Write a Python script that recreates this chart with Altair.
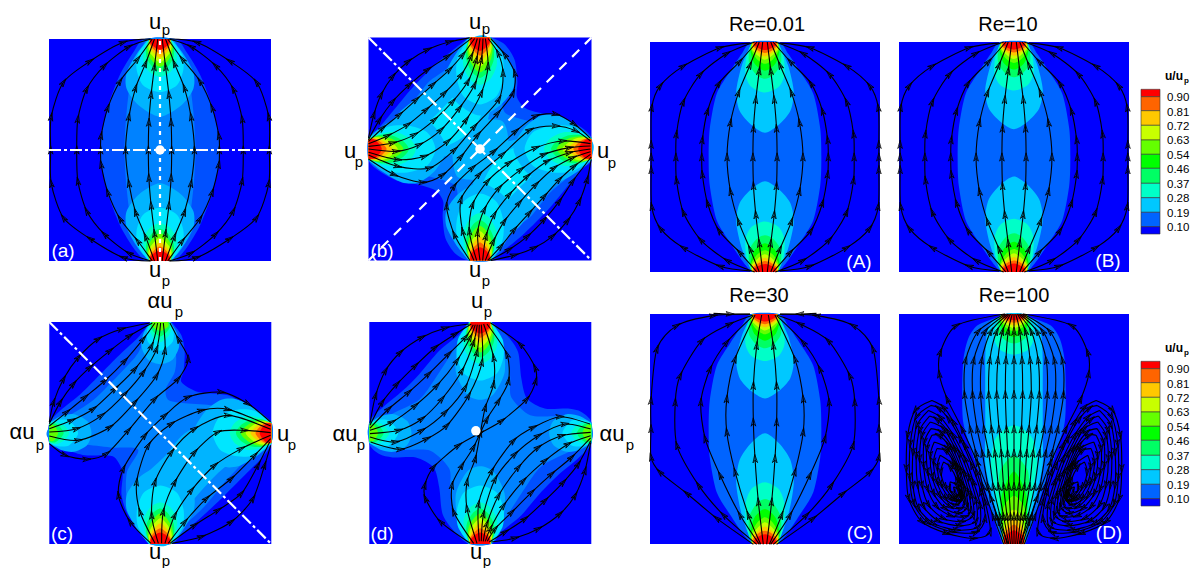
import math
import altair as alt
import pandas as pd

# ---- colours of the contour levels
BLUE = "#0000ff"
C1, C2, C3, C4, C5, C6, C7, C8, C9, C10, C11 = ("#0050ff", "#0082ff", "#00b4ff", "#00e6ff", "#00ffc0",
                                                 "#00ff60", "#60ff00", "#c8ff00", "#ffc800", "#ff6400", "#ff0000")
LEGEND_COLORS = ["#ff0000", "#ff6400", "#ffc800", "#c8ff00", "#64ff00", "#00ff00",
                 "#00ff64", "#00ffc8", "#00c8ff", "#0064ff", "#0000ff"]
LEGEND_LABELS = ["0.90", "0.81", "0.72", "0.63", "0.54", "0.46", "0.37", "0.28", "0.19", "0.10"]

# ---- panel frames: centre x, centre y, half size
PANELS = {"a": (160, 150, 111), "b": (480, 149, 111.5), "c": (160.3, 433, 111), "d": (480.3, 433, 111),
          "A": (765, 157, 115), "B": (1014, 157, 115), "C": (765, 429, 115), "D": (1014, 429, 115)}

# ---- contour lobes: (half width, distance from the pole)
RINGS_STRONG = [
    (C4, [(.10, 0), (.20, .14), (.21, .28), (.15, .42), (0, .48)]),
    (C5, [(.09, 0), (.14, .10), (.15, .2), (.09, .30), (0, .34)]),
    (C6, [(.09, 0), (.125, .08), (.12, .17), (.07, .25), (0, .29)]),
    (C7, [(.09, 0), (.115, .07), (.10, .15), (.05, .22), (0, .25)]),
    (C8, [(.09, 0), (.105, .06), (.085, .13), (0, .21)]),
    (C9, [(.09, 0), (.095, .05), (.07, .11), (0, .17)]),
    (C10, [(.09, 0), (.09, .05), (.05, .10), (0, .13)]),
    (C11, [(.085, 0), (.085, .04), (.04, .08), (0, .095)]),
]
RINGS_WEAK = [
    (C3, [(.09, 0), (.15, .1), (.17, .22), (.11, .34), (0, .38)]),
    (C4, [(.09, 0), (.12, .08), (.11, .18), (0, .26)]),
    (C5, [(.085, 0), (.10, .06), (.07, .13), (0, .18)]),
    (C6, [(.08, 0), (.085, .05), (.05, .10), (0, .13)]),
    (C7, [(.07, 0), (.07, .04), (0, .08)]),
]
RING_A_LOBE = [(.11, 0), (.2, .2), (.25, .43), (.22, .6), (.12, .72), (0, .79)]
RINGS_A = [
    ("#00ffc8", [(.11, 0), (.16, .12), (.17, .28), (.12, .39), (0, .44)]),
    ("#00ff64", [(.11, 0), (.14, .1), (.135, .2), (.07, .29), (0, .32)]),
    ("#00ff00", [(.11, 0), (.125, .08), (.09, .19), (0, .25)]),
    ("#64ff00", [(.11, 0), (.12, .07), (.07, .15), (0, .19)]),
    ("#c8ff00", [(.11, 0), (.115, .06), (.06, .12), (0, .155)]),
    ("#ffc800", [(.105, 0), (.11, .05), (.05, .10), (0, .125)]),
    ("#ff6400", [(.10, 0), (.10, .04), (.05, .08), (0, .095)]),
    ("#ff0000", [(.09, 0), (.09, .03), (.04, .06), (0, .07)]),
]
RINGS_D_BOTTOM = [
    ("#00ffc8", [(.09, 0), (.13, .2), (.17, .5), (.2, .7), (.17, .9), (.08, 1.0), (0, 1.03)]),
    ("#00ff64", [(.09, 0), (.11, .2), (.13, .5), (.115, .65), (0, .77)]),
    ("#00ff00", [(.09, 0), (.11, .2), (.11, .4), (.06, .55), (0, .63)]),
    ("#64ff00", [(.09, 0), (.10, .15), (.09, .32), (0, .42)]),
    ("#c8ff00", [(.09, 0), (.095, .12), (.06, .25), (0, .3)]),
    ("#ffc800", [(.09, 0), (.09, .1), (.05, .18), (0, .22)]),
    ("#ff6400", [(.09, 0), (.09, .08), (.04, .14), (0, .17)]),
    ("#ff0000", [(.085, 0), (.085, .06), (.04, .10), (0, .12)]),
]

# ---- region outlines, in unit panel coordinates
LENS_A1 = [(.14, -1), (.24, -.88), (.36, -.68), (.46, -.42), (.52, -.18), (.54, 0), (.52, .18), (.46, .42), (.36, .68), (.24, .88), (.14, 1)]
LENS_A2 = [(.11, -1), (.19, -.85), (.26, -.65), (.30, -.35), (.32, 0), (.30, .35), (.26, .65), (.19, .85), (.11, 1)]
LOBE_A3 = [(.10, 0), (.2, .12), (.30, .30), (.30, .45), (.19, .6), (0, .70)]
LENS_CAP1 = [(.12, -1), (.2, -.9), (.3, -.75), (.42, -.55), (.48, -.25), (.49, 0), (.48, .25), (.42, .55), (.3, .75), (.2, .9), (.12, 1)]
LENS_D1 = [(.10, -1), (.17, -.8), (.26, -.5), (.35, -.25), (.44, .05), (.45, .35), (.44, .6), (.40, .78), (.32, .9), (.15, .97), (.08, 1)]
LENS_D2 = [(.09, -1), (.13, -.8), (.2, -.55), (.25, -.3), (.25, 0), (.25, .3), (.25, .6), (.24, .8), (.2, .92), (.08, 1)]

B_L1 = [(.10, 1), (.22, .94), (.31, .80), (.335, .61), (.33, .47), (.40, .37), (.55, .32), (.73, .29), (.90, .20), (1, .10),
        (1, -.10), (.91, -.185), (.76, -.365), (.61, -.545), (.40, -.755), (.22, -.905), (.10, -1)]
B_L2 = [(.09, 1), (.18, .89), (.22, .77), (.24, .62), (.20, .44), (.23, .32), (.40, .26), (.60, .22), (.78, .17), (.92, .1), (1, .07),
        (1, -.07), (.90, -.13), (.78, -.26), (.62, -.40), (.46, -.60), (.3, -.72), (.16, -.88), (.09, -1)]
B_BAND3 = [(-1, .06), (-.85, .17), (-.7, .35), (-.45, .55), (-.3, .7), (-.17, .85), (-.06, 1), (.07, 1), (.12, .75), (.14, .55), (.08, .3),
           (.02, .1), (-.15, -.02), (-.4, -.08), (-.7, -.12), (-1, -.07)]
B_BAND4 = [(-.70, .12), (-.5, .22), (-.35, .35), (-.2, .52), (-.12, .70), (.02, .72), (.05, .5), (.0, .28), (-.12, .13), (-.3, .03), (-.5, .03), (-.70, .02)]
B_CENTRE = [(-.1, .25), (.2, .25), (.25, 0), (.1, -.25), (-.2, -.25), (-.25, 0)]

C_L1 = [(.10, 1), (.19, .88), (.22, .73), (.21, .56), (.19, .46), (.34, .37), (.61, .34), (.79, .23), (1, .10), (1, -.10), (.91, -.23), (.76, -.38), (.55, -.59),
        (.37, -.76), (.19, -.92), (.10, -1), (-.10, -1), (-.18, -.88), (-.30, -.72), (-.35, -.55), (-.34, -.35), (-.41, -.22), (-.5, -.2),
        (-.68, -.2), (-.85, -.15), (-1, -.09), (-1, .09), (-.88, .22), (-.72, .35), (-.52, .55), (-.35, .72), (-.2, .86), (-.09, 1)]
C_L2 = [(.07, 1), (.14, .72), (.13, .55), (.05, .4), (.07, .3), (.2, .27), (.45, .25), (.7, .18), (.9, .12), (1, .08), (1, -.08), (.8, -.22),
        (.6, -.42), (.40, -.66), (.2, -.85), (.08, -1), (-.08, -1), (-.2, -.8), (-.3, -.6), (-.3, -.35), (-.2, -.15), (-.45, -.13),
        (-.7, -.1), (-1, -.05), (-1, .05), (-.8, .17), (-.6, .3), (-.35, .55), (-.2, .72), (-.07, 1)]
C_L3 = [(1, .05), (.7, .1), (.4, .08), (.2, -.02), (.05, -.2), (-.15, -.4), (-.2, -.6), (-.17, -.85), (-.08, -1), (.08, -1), (.18, -.75), (.3, -.6),
        (.5, -.38), (.72, -.2), (1, -.05)]

D_L1 = [(.10, 1), (.24, .88), (.34, .73), (.37, .49), (.42, .31), (.58, .22), (.79, .22), (.91, .19), (1, .10), (1, -.1), (.88, -.23), (.70, -.38), (.55, -.53),
        (.37, -.74), (.19, -.89), (.10, -1)]
D_L2 = [(.08, 1), (.18, .85), (.24, .7), (.27, .5), (.28, .32), (.45, .16), (.7, .15), (.9, .1), (1, .06), (1, -.06), (.8, -.17), (.55, -.30),
        (.4, -.5), (.27, -.7), (.15, -.88), (.08, -1)]
D_LOBE3 = [(.1, 0), (.2, .2), (.22, .45), (.12, .65), (0, .7)]

# ---- streamlines of the two-pole panels: lower right quarter, pole to mid-plane
SL_A = [
    [(.02, -1), (.05, -.75), (.08, -.5), (.10, -.25), (.105, 0)],
    [(.05, -1), (.13, -.78), (.22, -.56), (.28, -.3), (.31, 0)],
    [(.07, -1), (.2, -.82), (.36, -.62), (.47, -.38), (.53, -.13), (.535, 0)],
    [(.08, -1), (.28, -.93), (.50, -.76), (.66, -.55), (.74, -.28), (.75, 0)],
    [(.09, -1), (.33, -.97), (.63, -.80), (.87, -.61), (.98, -.3), (.985, 0)],
]
SL_CAP = [
    [(.02, -1), (.05, -.75), (.08, -.5), (.10, -.25), (.105, 0)],
    [(.05, -1), (.13, -.8), (.23, -.56), (.30, -.3), (.33, 0)],
    [(.07, -1), (.22, -.83), (.4, -.64), (.50, -.4), (.545, -.15), (.55, 0)],
    [(.09, -1), (.33, -.9), (.56, -.72), (.71, -.48), (.77, -.2), (.775, 0)],
    [(.13, -.99), (.39, -.95), (.71, -.79), (.91, -.62), (.985, -.43), (.99, -.11), (.99, 0)],
]
# panel C, right-hand lines, read in zoomed picture coordinates
SL_C = [
    [(380, 778), (395, 650), (405, 520), (410, 410), (410, 300), (400, 180), (385, 88)],
    [(388, 778), (425, 690), (465, 560), (490, 440), (490, 340), (465, 220), (405, 88)],
    [(392, 778), (450, 690), (510, 570), (555, 460), (568, 350), (540, 250), (490, 170), (410, 90)],
    [(400, 778), (500, 690), (575, 600), (640, 480), (645, 350), (630, 270), (565, 165), (480, 115), (410, 88)],
    [(410, 778), (520, 700), (610, 625), (692, 560), (718, 515), (718, 430), (718, 345), (700, 190), (640, 120), (530, 90), (420, 86)],
]
SL_C_TOP = [(530, 83), (480, 85), (420, 85)]
SL_B_BAND = [
    [(102, 385), (118, 315), (140, 255), (175, 200), (222, 155), (280, 120), (345, 97), (405, 85)],
    [(102, 390), (135, 330), (175, 275), (225, 225), (280, 180), (340, 140), (412, 85)],
    [(102, 395), (145, 355), (195, 315), (245, 270), (295, 225), (345, 180), (385, 135), (420, 87)],
    [(102, 402), (160, 378), (220, 345), (275, 300), (330, 250), (380, 195), (410, 140), (428, 87)],
    [(102, 410), (175, 400), (240, 375), (300, 330), (355, 275), (400, 215), (425, 150), (436, 87)],
    [(102, 418), (185, 425), (255, 405), (320, 360), (375, 295), (420, 225), (440, 150), (445, 87)],
    [(102, 428), (190, 450), (270, 440), (340, 395), (395, 330), (440, 250), (460, 170), (452, 87)],
    [(102, 436), (190, 470), (285, 475), (360, 420), (420, 350), (493, 268), (505, 190), (490, 130), (460, 87)],
    [(102, 448), (180, 495), (265, 518), (325, 495), (380, 440), (430, 375), (490, 310), (535, 250), (540, 190), (510, 135), (468, 87)],
]
SL_C_UPPER = [
    [(102, 380), (115, 320), (145, 250), (190, 185), (250, 130), (320, 100), (405, 82)],
    [(102, 385), (135, 320), (175, 265), (225, 215), (285, 165), (345, 120), (412, 82)],
    [(102, 392), (155, 350), (210, 305), (270, 255), (330, 195), (385, 130), (420, 82)],
    [(102, 400), (170, 375), (235, 340), (300, 280), (360, 220), (410, 150), (428, 82)],
    [(102, 410), (185, 400), (260, 360), (330, 295), (385, 230), (425, 160), (437, 82)],
    [(102, 422), (190, 435), (285, 395), (360, 320), (425, 240), (450, 165), (445, 82)],
    [(102, 445), (150, 480), (215, 492), (275, 475), (340, 405), (420, 310), (490, 250), (520, 190), (490, 130), (465, 82)],
]
SL_C_LOWER = [
    [(470, 745), (560, 725), (650, 680), (715, 610), (750, 510), (768, 450)],
    [(465, 745), (540, 690), (610, 645), (680, 595), (730, 510), (765, 440)],
    [(460, 745), (510, 680), (575, 610), (650, 550), (720, 480), (768, 430)],
    [(450, 745), (480, 660), (530, 585), (600, 510), (680, 460), (768, 420)],
    [(440, 745), (445, 650), (480, 560), (540, 470), (610, 410), (690, 405), (768, 412)],
    [(430, 745), (410, 660), (420, 560), (470, 470), (540, 400), (640, 360), (768, 402)],
    [(420, 745), (375, 650), (365, 560), (400, 450), (470, 385), (560, 345), (640, 342), (768, 392)],
    [(408, 745), (345, 680), (310, 600), (325, 520), (390, 420), (450, 360), (520, 305), (620, 290), (700, 325), (768, 380)],
]
SL_D_BAND = [
    [(133, 385), (150, 300), (180, 225), (225, 170), (290, 125), (360, 97), (432, 85)],
    [(133, 390), (170, 320), (215, 265), (270, 210), (330, 155), (390, 115), (438, 85)],
    [(133, 398), (190, 340), (250, 290), (310, 235), (370, 175), (420, 125), (444, 87)],
    [(133, 405), (200, 380), (270, 330), (335, 270), (395, 195), (435, 125), (450, 87)],
    [(133, 415), (220, 405), (290, 370), (350, 310), (410, 225), (445, 140), (456, 87)],
    [(133, 425), (210, 440), (290, 405), (360, 350), (420, 275), (455, 170), (462, 87)],
    [(135, 440), (225, 462), (305, 430), (365, 390), (430, 300), (470, 200), (468, 87)],
]
SL_D_S = [
    [(435, 745), (345, 680), (300, 610), (298, 570), (325, 515), (400, 450), (465, 413), (530, 376), (605, 311), (632, 256), (630, 216), (585, 146), (495, 81)],
    [(445, 745), (385, 650), (380, 570), (410, 510), (445, 455), (485, 371), (520, 316), (550, 256), (545, 176), (485, 85)],
    [(455, 745), (425, 640), (425, 560), (450, 490), (465, 413), (480, 336), (505, 266), (505, 186), (475, 85)],
]
# panel D: central funnel, half widths at each height
D_ROWS = [-1, -.76, -.5, -.21, 0, .3, .6, .85, 1]
D_FUNNEL = [
    [.015, .03, .045, .055, .065, .075, .07, .05, .015],
    [.03, .06, .09, .11, .13, .15, .14, .10, .03],
    [.045, .09, .135, .165, .195, .22, .21, .15, .04],
    [.06, .12, .18, .22, .26, .29, .28, .20, .05],
    [.075, .15, .225, .275, .32, .36, .35, .25, .065],
    [.09, .18, .27, .33, .38, .43, .42, .31, .08],
]
D_CENTRE_X = [0, 0, 0, 0, 0, 0, 0, 0, 0]
D_OUTER = [(.05, -1), (.13, -.8), (.20, -.6), (.32, -.29), (.45, 0), (.58, .26), (.65, .48), (.64, .67), (.5, .9), (.08, 1)]
# panel D: left vortex, closed loops, in zoomed picture coordinates
D_VORTEX = [
    [(125, 345), (75, 375), (52, 450), (48, 550), (55, 640), (95, 710), (170, 745), (250, 760), (300, 740), (285, 650), (260, 560), (225, 480), (190, 410), (160, 365), (125, 345)],
    [(122, 360), (78, 395), (60, 475), (58, 575), (70, 655), (112, 712), (185, 740), (258, 742), (285, 700), (272, 620), (245, 540), (210, 460), (175, 400), (145, 368), (122, 360)],
    [(115, 375), (80, 420), (68, 500), (68, 600), (85, 670), (130, 715), (200, 735), (265, 725), (270, 660), (250, 590), (225, 520), (190, 450), (150, 395), (115, 375)],
    [(118, 392), (88, 435), (78, 510), (82, 600), (100, 665), (145, 708), (208, 722), (258, 708), (258, 645), (238, 575), (210, 505), (175, 440), (140, 402), (118, 392)],
    [(120, 410), (95, 450), (88, 520), (95, 600), (115, 660), (160, 700), (215, 710), (250, 690), (245, 630), (225, 565), (195, 490), (160, 430), (120, 410)],
    [(122, 430), (102, 470), (100, 540), (112, 612), (140, 665), (182, 692), (225, 695), (242, 675), (235, 620), (215, 555), (185, 485), (152, 440), (122, 430)],
    [(125, 450), (110, 490), (112, 560), (130, 625), (165, 670), (205, 685), (232, 665), (225, 610), (205, 545), (175, 480), (145, 450), (125, 450)],
    [(132, 470), (120, 510), (126, 575), (148, 632), (180, 665), (212, 670), (225, 650), (218, 600), (198, 538), (170, 488), (132, 470)],
    [(140, 490), (130, 530), (140, 590), (165, 640), (195, 660), (218, 640), (210, 590), (190, 530), (165, 495), (140, 490)],
    [(150, 510), (141, 545), (152, 598), (178, 640), (204, 648), (215, 625), (205, 580), (185, 535), (150, 510)],
    [(160, 530), (152, 560), (165, 605), (190, 640), (208, 625), (200, 585), (180, 545), (160, 530)],
    [(180, 590), (178, 610), (195, 640), (212, 645), (215, 625), (200, 600), (180, 590)],
    [(190, 605), (195, 625), (207, 630), (205, 615), (190, 605)],
]
ZOOM = {"b": (436, 418, 334), "c": (436, 413, 334), "d": (465, 413, 334), "C": (375, 431, 346), "D": (372, 431, 346)}

# ---- text: text, x, y
MAIN_LABELS = [("u", 155, 21.5), ("u", 155, 270), ("u", 475, 21.5), ("u", 475, 270), ("u", 350, 151), ("u", 603, 151),
               ("αu", 160, 301), ("u", 155, 552), ("αu", 22, 432), ("u", 283, 434),
               ("u", 477, 301), ("u", 476, 552), ("αu", 345, 434), ("αu", 612, 434)]
SUB_LABELS = [(166, 30), (166, 281), (486, 29), (486, 281), (359, 162), (612, 163),
              (179, 312), (166, 561), (40, 445), (292, 445),
              (488, 312), (487, 561), (361, 445), (630, 445)]
TITLES = [("Re=0.01", 767, 25), ("Re=10", 1008, 25), ("Re=30", 759, 296), ("Re=100", 1014, 296)]
TAGS = [("(a)", 63, 251), ("(b)", 382, 251), ("(c)", 62, 534), ("(d)", 382, 534),
        ("(A)", 859, 262), ("(B)", 1108, 261), ("(C)", 860, 533), ("(D)", 1109, 533)]
LEGEND_EDGES = [89.3, 96.7, 110.7, 125.3, 140, 154.3, 168.3, 183.3, 197.7, 212.3, 226.7, 234]
LEGEND_LABEL_Y = [98.3, 112.7, 127.3, 141.3, 155.7, 170.3, 185, 199.3, 213.7, 228]
LEGEND_SHIFTS = [0, 272]
WHITE_DOTS = [("a", 0, 0), ("b", 0, 0), ("d", -.04, .02)]

# ---- helpers
polys, lines, arrows = [], [], []


def to_px(panel, x, y):
    cx, cy, h = PANELS[panel]
    return cx + x * h, cy - y * h


def unit(panel, pts):
    cx, cy, h = ZOOM[panel]
    return [((a - cx) / h, (cy - b) / h) for a, b in pts]


POLY_COUNT = [0]


def add_poly(panel, color, pts):
    POLY_COUNT[0] += 1
    gid = f"p{POLY_COUNT[0]:04d}"
    for i, (x, y) in enumerate(pts):
        px, py = to_px(panel, x, y)
        polys.append(dict(g=gid, i=i, x=px, y=py, c=color))


def lobe(panel, color, profile, pole, s=1.0):
    side = list(profile) + [(-w, d) for w, d in reversed(profile[:-1])]
    out = []
    for w, d in side:
        d = d * s
        out.append({"B": (w, -1 + d), "T": (w, 1 - d), "L": (-1 + d, w), "R": (1 - d, w)}[pole])
    add_poly(panel, color, out)


def lens(panel, color, right):
    add_poly(panel, color, list(right) + [(-x, y) for x, y in reversed(right)])


def stream(panel, pts, stride=1):
    gid = f"s{len(lines):05d}"
    pix = [to_px(panel, x, y) for x, y in pts]
    for i, (x, y) in enumerate(pix):
        lines.append(dict(g=gid, i=i, x=x, y=y))
    for i in range(1, len(pix) - 1, stride):
        dx = pix[i + 1][0] - pix[i - 1][0]
        dy = pix[i + 1][1] - pix[i - 1][1]
        arrows.append(dict(x=pix[i][0], y=pix[i][1], ang=math.degrees(math.atan2(dx, -dy)) % 360))


def mirror_x(p):
    return [(-x, y) for x, y in p]


def quarter_lines(panel, quarter):
    for q in quarter:
        full = q + [(x, -y) for x, y in reversed(q[:-1])]
        stream(panel, full)
        stream(panel, mirror_x(full))


# ---- panels a, A, B, C, D contours
lens("a", C1, LENS_A1)
lens("a", C2, LENS_A2)
for pole in "BT":
    lobe("a", C3, LOBE_A3, pole)
    for col, prof in RINGS_STRONG:
        lobe("a", col, prof, pole)
for panel, top, bottom in (("A", 1.0, 1.0), ("B", .96, 1.05), ("C", .93, 1.22)):
    lens(panel, LEGEND_COLORS[9], LENS_CAP1)
    for pole, s in (("T", top), ("B", bottom)):
        lobe(panel, LEGEND_COLORS[8], RING_A_LOBE, pole, s)
        for col, prof in RINGS_A:
            lobe(panel, col, prof, pole, s)
lens("D", LEGEND_COLORS[9], LENS_D1)
lens("D", LEGEND_COLORS[8], LENS_D2)
for col, prof in RINGS_D_BOTTOM:
    lobe("D", col, prof, "B")
for col, prof in RINGS_A:
    lobe("D", col, prof, "T", .8)

# ---- panels b, c, d contours
add_poly("b", C1, B_L1 + [(-x, -y) for x, y in B_L1])
add_poly("b", C2, B_L2 + [(-x, -y) for x, y in B_L2])
add_poly("b", C3, B_CENTRE)
for band, col in ((B_BAND3, C3), (B_BAND4, C4)):
    add_poly("b", col, band)
    add_poly("b", col, [(y, x) for x, y in band])
for pole in "TLRB":
    lobe("b", C3, LOBE_A3, pole)
    for col, prof in RINGS_STRONG:
        lobe("b", col, prof, pole, 1.25)
add_poly("c", C1, C_L1)
add_poly("c", C2, C_L2)
add_poly("c", C3, C_L3)
for pole in "RB":
    lobe("c", C3, LOBE_A3, pole)
    for col, prof in RINGS_STRONG:
        lobe("c", col, prof, pole, 1.1)
add_poly("d", C1, D_L1 + [(-x, -y) for x, y in D_L1])
add_poly("d", C2, D_L2 + [(-x, -y) for x, y in D_L2])
for pole in "TB":
    lobe("d", C3, D_LOBE3, pole)
    for col, prof in RINGS_STRONG:
        lobe("d", col, prof, pole, 1.1)
for panel in "cd":
    for pole in "TL" if panel == "c" else "LR":
        for col, prof in RINGS_WEAK:
            lobe(panel, col, prof, pole)

# ---- streamlines
quarter_lines("a", SL_A)
quarter_lines("A", SL_CAP)
quarter_lines("B", SL_CAP)
for q in SL_C:
    u = unit("C", q)
    stream("C", u)
    stream("C", mirror_x(u))
stream("C", unit("C", SL_C_TOP), stride=9)
stream("C", mirror_x(unit("C", SL_C_TOP)), stride=9)
for q in SL_B_BAND:
    u = unit("b", q)
    stream("b", u)
    stream("b", [(y, x) for x, y in u])
for q in SL_C_UPPER + SL_C_LOWER:
    stream("c", unit("c", q))
for q in SL_D_BAND:
    u = unit("d", q)
    stream("d", u)
    stream("d", [(-x, -y) for x, y in reversed(u)])
for q in SL_D_S:
    stream("d", unit("d", q))
stream("D", list(zip(D_CENTRE_X, D_ROWS)))
for widths in D_FUNNEL:
    p = list(zip(widths, D_ROWS))
    stream("D", p)
    stream("D", mirror_x(p))
stream("D", D_OUTER)
stream("D", mirror_x(D_OUTER))
for loop in D_VORTEX:
    u = unit("D", loop)
    stream("D", u)
    stream("D", mirror_x(u))

# ---- data frames
df_polys = pd.DataFrame(polys)
df_lines = pd.DataFrame(lines)
df_arrows = pd.DataFrame(arrows)
df_frames = pd.DataFrame([dict(x=cx - h, x2=cx + h, y=cy - h, y2=cy + h) for cx, cy, h in PANELS.values()])

cells, leg_labels, leg_heads, leg_subs = [], [], [], []
for shift in LEGEND_SHIFTS:
    for i, col in enumerate(LEGEND_COLORS):
        cells.append(dict(x=1141, x2=1160, y=LEGEND_EDGES[i] + shift, y2=LEGEND_EDGES[i + 1] + shift, c=col))
    for lab, ly in zip(LEGEND_LABELS, LEGEND_LABEL_Y):
        leg_labels.append((lab, 1167, ly + shift))
    leg_heads.append(("u/u", 1165, 76 + shift))
    leg_subs.append(("p", 1184, 81 + shift))


def guide(panel, p, q, gid):
    a = to_px(panel, *p)
    b = to_px(panel, *q)
    return [dict(g=gid, i=0, x=a[0], y=a[1]), dict(g=gid, i=1, x=b[0], y=b[1])]


dashdot = guide("a", (-1, 0), (1, 0), "h") + guide("b", (-1, 1), (1, -1), "b") + guide("c", (-1, 1), (1, -1), "c")
dashed = guide("b", (-1, -1), (1, 1), "b2")
dotted = guide("a", (0, -1), (0, 1), "v")
dots = pd.DataFrame([dict(zip("xy", to_px(k, x, y))) for k, x, y in WHITE_DOTS])

X = alt.X("x:Q", scale=alt.Scale(domain=[8, 1190]), axis=None)
Y = alt.Y("y:Q", scale=alt.Scale(domain=[568, 8]), axis=None)
X2 = alt.X2("x2:Q")
Y2 = alt.Y2("y2:Q")
FONT = "Liberation Sans"

bg = alt.Chart(df_frames).mark_rect(color=BLUE).encode(x=X, x2=X2, y=Y, y2=Y2)
fills = alt.Chart(df_polys).mark_line(interpolate="cardinal", tension=.2, strokeWidth=0).encode(
    x=X, y=Y, detail="g:N", order="i:Q", fill=alt.Fill("c:N", scale=None))
flow = alt.Chart(df_lines).mark_line(interpolate="cardinal", tension=.2, color="black", strokeWidth=1.1).encode(
    x=X, y=Y, detail="g:N", order="i:Q")
heads = alt.Chart(df_arrows).mark_point(shape="M -0.55 1 L 0 -1 L 0.55 1 L 0 0.35 Z", filled=False, size=70,
                                        color="black", strokeWidth=.8, opacity=1).encode(
    x=X, y=Y, angle=alt.Angle("ang:Q", scale=None))


def guide_layer(data, dash):
    return alt.Chart(pd.DataFrame(data)).mark_line(color="white", strokeWidth=2.2, strokeDash=dash).encode(
        x=X, y=Y, detail="g:N", order="i:Q")


white_dots = alt.Chart(dots).mark_circle(color="white", opacity=1, size=90).encode(x=X, y=Y)
legend_rects = alt.Chart(pd.DataFrame(cells)).mark_rect(stroke="#333333", strokeWidth=.6).encode(
    x=X, x2=X2, y=Y, y2=Y2, fill=alt.Fill("c:N", scale=None))


def text_layer(rows, size, color="black", align="center", weight="normal"):
    df = pd.DataFrame(rows, columns=["t", "x", "y"])
    return alt.Chart(df).mark_text(font=FONT, fontSize=size, color=color, align=align, baseline="middle", fontWeight=weight).encode(
        x=X, y=Y, text="t:N")


chart = alt.layer(
    bg, fills, flow, heads,
    guide_layer(dashdot, [12, 3, 3, 3]), guide_layer(dashed, [10, 8]), guide_layer(dotted, [4, 5]),
    white_dots, legend_rects,
    text_layer(MAIN_LABELS, 22),
    text_layer([("p", x, y) for x, y in SUB_LABELS], 15),
    text_layer(TITLES, 20),
    text_layer(TAGS, 19, color="white"),
    text_layer(leg_labels, 11.5, align="left"),
    text_layer(leg_heads, 12, align="left", weight="bold"),
    text_layer(leg_subs, 8, align="left", weight="bold"),
).properties(width=1182, height=560, padding=0, autosize=alt.AutoSizeParams(type="none")).configure_view(stroke=None)

chart.save("out.html", embed_options={"renderer": "svg", "actions": False})
